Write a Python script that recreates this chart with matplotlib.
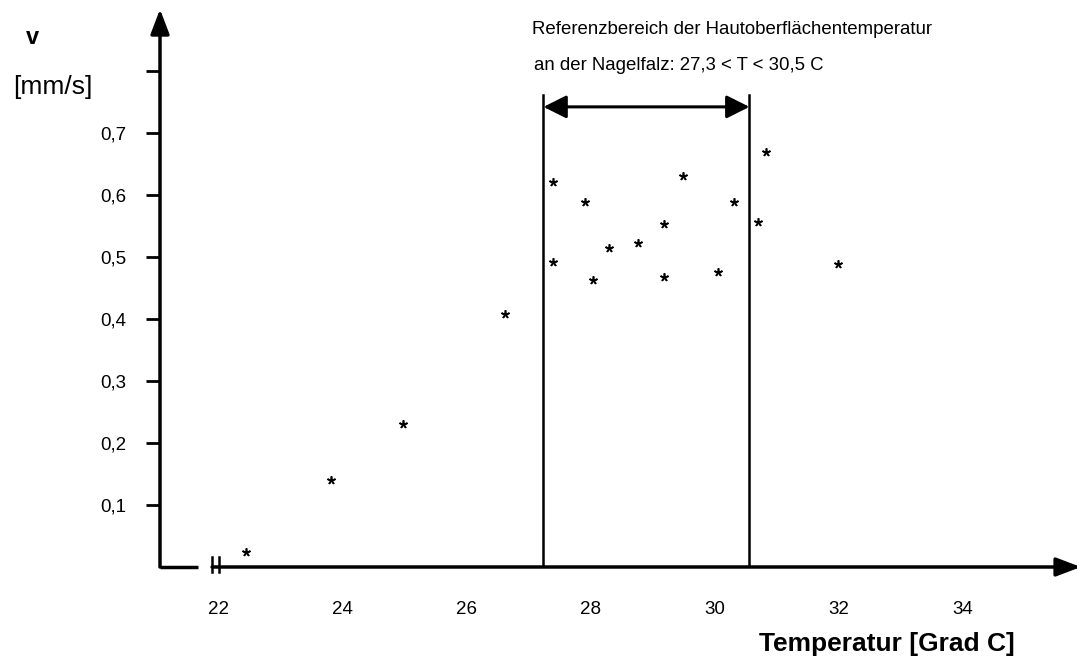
import matplotlib
matplotlib.use("Agg")
import matplotlib.pyplot as plt
import numpy as np

plt.rcParams['font.family'] = ['Liberation Sans', 'DejaVu Sans']

# Hauttemperatur [Grad C] und Geschwindigkeit v [mm/s]
temp = [22.45, 23.82, 24.97, 26.62, 27.39, 27.39, 27.91, 28.04, 28.29,
        28.77, 29.19, 29.19, 29.49, 30.05, 30.31, 30.69, 30.82, 31.98]
v = [0.024, 0.140, 0.231, 0.408, 0.621, 0.492, 0.588, 0.463, 0.515,
     0.523, 0.553, 0.467, 0.631, 0.476, 0.588, 0.557, 0.670, 0.489]

x_ticks = [22, 24, 26, 28, 30, 32, 34]
y_ticks = [0.1, 0.2, 0.3, 0.4, 0.5, 0.6, 0.7, 0.8]
y_labels = ['0,1', '0,2', '0,3', '0,4', '0,5', '0,6', '0,7', '']

ref_lo, ref_hi = 27.24, 30.56

W, H = 1077, 656
fig = plt.figure(figsize=(W / 100, H / 100), dpi=100)
ax = fig.add_axes([160 / W, 89 / H, 917 / W, 555 / H])
ax.set_xlim(21.061, 35.838)
ax.set_ylim(0, 0.895)

for s in ax.spines.values():
    s.set_visible(False)

arrow = dict(arrowstyle='-|>,head_length=1.0,head_width=0.38',
             mutation_scale=15, lw=2.5, color='black', shrinkA=0, shrinkB=0)

# y axis with arrow
ax.annotate('', xy=(0, 1.005), xytext=(0, 0), xycoords='axes fraction',
            arrowprops=arrow, annotation_clip=False)

# x axis with break and arrow
ax.plot([21.061, 21.679], [0, 0], color='black', lw=2.5, clip_on=False,
        solid_capstyle='butt')
ax.annotate('', xy=(35.9, 0), xytext=(21.90, 0), xycoords='data',
            arrowprops=arrow, annotation_clip=False)
for xb in (21.905, 22.01):
    ax.plot([xb, xb], [-0.008, 0.016], color='black', lw=1.8, clip_on=False)

ax.set_yticks(y_ticks)
ax.set_yticklabels(y_labels)
ax.tick_params(axis='y', direction='out', length=10, width=2.0, pad=14,
               labelsize=13.5)
ax.set_xticks(x_ticks)
ax.set_xticklabels([str(t) for t in x_ticks])
ax.tick_params(axis='x', length=0, pad=24.5, labelsize=13.5)

# reference range
ax.plot([ref_lo, ref_lo], [0, 0.761], color='black', lw=1.8)
ax.plot([ref_hi, ref_hi], [0, 0.761], color='black', lw=1.8)
ax.annotate('', xy=(ref_hi, 0.742), xytext=(ref_lo, 0.742),
            arrowprops=dict(arrowstyle='<|-|>,head_length=1.0,head_width=0.5',
                            mutation_scale=14, lw=2.2, color='black',
                            shrinkA=0, shrinkB=0))
ax.text(27.06, 0.866, 'Referenzbereich der Hautoberflächentemperatur',
        fontsize=13.4, ha='left', va='center')
ax.text(27.08, 0.808, 'an der Nagelfalz: 27,3 < T < 30,5 C',
        fontsize=13.4, ha='left', va='center')

ax.plot(temp, v, linestyle='none', marker=(5, 2, 0), ms=6, mew=1.2,
        color='black')

fig.text(32 / W, 1 - 38 / H, 'v', fontsize=17, fontweight='bold',
         ha='center', va='center')
fig.text(53 / W, 1 - 87 / H, '[mm/s]', fontsize=19, ha='center', va='center')
fig.text(887 / W, 1 - 644 / H, 'Temperatur [Grad C]', fontsize=19,
         fontweight='bold', ha='center', va='center')

fig.savefig('out.png', dpi=100)
